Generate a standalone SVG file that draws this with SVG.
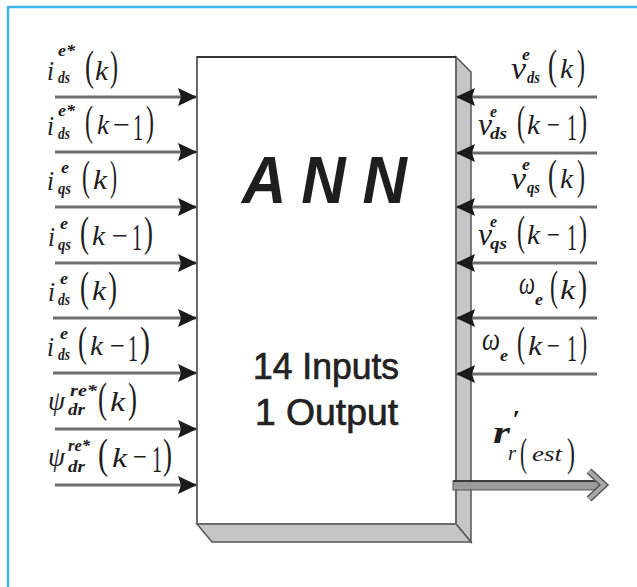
<svg xmlns="http://www.w3.org/2000/svg" width="637" height="587" viewBox="0 0 637 587">
<style>
.frame{stroke:#3cb9e8;stroke-width:2.5;fill:none}
.conn{stroke:#6e6e6e;stroke-width:3;fill:none}
.m{font-family:"Liberation Serif",serif;font-style:italic;fill:#1e1e1e}
.p{font-family:"Liberation Serif",serif;fill:#1e1e1e}
.s{font-family:"Liberation Serif",serif;font-style:italic;font-weight:bold;fill:#1e1e1e;font-size:16px}
.big{font-size:28px}
.vv{font-size:32px}
.par{font-size:42px}
.one{font-size:38px}
.title{font-family:"Liberation Sans",Arial,sans-serif;font-weight:bold;font-style:italic;font-size:66px;fill:#1e1e1e}
.sub2{font-family:"Liberation Sans",Arial,sans-serif;font-size:37px;fill:#222;stroke:#222;stroke-width:0.7}
.shadow{fill:#c6c6c6;stroke:#555;stroke-width:1.5}
</style>
<defs>
<marker id="ah" markerWidth="20" markerHeight="18" refX="19" refY="9" orient="auto" markerUnits="userSpaceOnUse">
<path d="M0,0 L19,9 L0,18 L3,9 z" fill="#1a1a1a"/>
</marker>
</defs>
<line class="frame" x1="8" y1="7" x2="637" y2="7"/>
<line class="frame" x1="8" y1="6" x2="8" y2="587"/>

<g id="ann">
<polygon class="shadow" points="456,57 471,72 471,542 456,524"/>
<polygon class="shadow" points="197,524 456,524 471,542 212,542"/>
<rect x="197" y="57" width="259" height="467" fill="#fff" stroke="#6a6a6a" stroke-width="2"/>
<line x1="197" y1="57" x2="456" y2="57" stroke="#333" stroke-width="2"/>
<text class="title" x="242" y="203" textLength="165" lengthAdjust="spacingAndGlyphs">A N N</text>
<text class="sub2" x="253" y="379" textLength="146" lengthAdjust="spacingAndGlyphs">14 Inputs</text>
<text class="sub2" x="255" y="425" textLength="143" lengthAdjust="spacingAndGlyphs">1 Output</text>
</g>

<g id="connectors">
<line class="conn" x1="55" y1="97" x2="197" y2="97" marker-end="url(#ah)"/>
<line class="conn" x1="55" y1="152" x2="197" y2="152" marker-end="url(#ah)"/>
<line class="conn" x1="55" y1="207" x2="197" y2="207" marker-end="url(#ah)"/>
<line class="conn" x1="55" y1="263" x2="197" y2="263" marker-end="url(#ah)"/>
<line class="conn" x1="53" y1="318" x2="197" y2="318" marker-end="url(#ah)"/>
<line class="conn" x1="53" y1="373" x2="197" y2="373" marker-end="url(#ah)"/>
<line class="conn" x1="55" y1="429" x2="197" y2="429" marker-end="url(#ah)"/>
<line class="conn" x1="55" y1="485" x2="197" y2="485" marker-end="url(#ah)"/>
<line class="conn" x1="597" y1="97" x2="456" y2="97" marker-end="url(#ah)"/>
<line class="conn" x1="597" y1="153" x2="456" y2="153" marker-end="url(#ah)"/>
<line class="conn" x1="597" y1="207" x2="456" y2="207" marker-end="url(#ah)"/>
<line class="conn" x1="597" y1="263" x2="456" y2="263" marker-end="url(#ah)"/>
<line class="conn" x1="597" y1="318" x2="456" y2="318" marker-end="url(#ah)"/>
<line class="conn" x1="597" y1="374" x2="456" y2="374" marker-end="url(#ah)"/>
<g id="output-arrow">
<rect x="453" y="481" width="146" height="9" fill="#9c9c9c" stroke="#555" stroke-width="1"/>
<line x1="453" y1="481" x2="599" y2="481" stroke="#222" stroke-width="1.5"/>
<polyline points="589,471 604,485 589,499" fill="none" stroke="#555" stroke-width="7" stroke-linejoin="miter"/>
<polyline points="589,471 604,485 589,499" fill="none" stroke="#a8a8a8" stroke-width="4" stroke-linejoin="miter"/>
</g>
</g>

<g id="in1">
<text class="m big" x="47" y="80" textLength="7" lengthAdjust="spacingAndGlyphs">i</text>
<text class="s" x="58" y="56" textLength="17" lengthAdjust="spacingAndGlyphs">e*</text>
<text class="s" x="58" y="83" textLength="12" lengthAdjust="spacingAndGlyphs">ds</text>
<text class="p par" x="85" y="80" textLength="9" lengthAdjust="spacingAndGlyphs">(</text>
<text class="m big" x="95" y="80" textLength="13" lengthAdjust="spacingAndGlyphs">k</text>
<text class="p par" x="110" y="80" textLength="8" lengthAdjust="spacingAndGlyphs">)</text>
</g>
<g id="in2">
<text class="m big" x="47" y="135" textLength="7" lengthAdjust="spacingAndGlyphs">i</text>
<text class="s" x="58" y="116" textLength="17" lengthAdjust="spacingAndGlyphs">e*</text>
<text class="s" x="58" y="139" textLength="12" lengthAdjust="spacingAndGlyphs">ds</text>
<text class="p par" x="85" y="135" textLength="8" lengthAdjust="spacingAndGlyphs">(</text>
<text class="m big" x="97" y="134" textLength="12" lengthAdjust="spacingAndGlyphs">k</text>
<text class="p big" x="113" y="134" textLength="17" lengthAdjust="spacingAndGlyphs">−</text>
<text class="p one" x="133" y="140" textLength="10" lengthAdjust="spacingAndGlyphs">1</text>
<text class="p par" x="146" y="135" textLength="8" lengthAdjust="spacingAndGlyphs">)</text>
</g>
<g id="in3">
<text class="m big" x="47" y="190" textLength="7" lengthAdjust="spacingAndGlyphs">i</text>
<text class="s" x="61" y="173" textLength="8" lengthAdjust="spacingAndGlyphs">e</text>
<text class="s" x="58" y="194" textLength="13" lengthAdjust="spacingAndGlyphs">qs</text>
<text class="p par" x="82" y="190" textLength="8" lengthAdjust="spacingAndGlyphs">(</text>
<text class="m big" x="93" y="189" textLength="14" lengthAdjust="spacingAndGlyphs">k</text>
<text class="p par" x="110" y="190" textLength="7" lengthAdjust="spacingAndGlyphs">)</text>
</g>
<g id="in4">
<text class="m big" x="48" y="246" textLength="7" lengthAdjust="spacingAndGlyphs">i</text>
<text class="s" x="60" y="229" textLength="8" lengthAdjust="spacingAndGlyphs">e</text>
<text class="s" x="58" y="250" textLength="13" lengthAdjust="spacingAndGlyphs">qs</text>
<text class="p par" x="80" y="246" textLength="9" lengthAdjust="spacingAndGlyphs">(</text>
<text class="m big" x="92" y="245" textLength="13" lengthAdjust="spacingAndGlyphs">k</text>
<text class="p big" x="112" y="245" textLength="16" lengthAdjust="spacingAndGlyphs">−</text>
<text class="p one" x="132" y="250" textLength="10" lengthAdjust="spacingAndGlyphs">1</text>
<text class="p par" x="144" y="246" textLength="9" lengthAdjust="spacingAndGlyphs">)</text>
</g>
<g id="in5">
<text class="m big" x="48" y="301" textLength="7" lengthAdjust="spacingAndGlyphs">i</text>
<text class="s" x="60" y="284" textLength="8" lengthAdjust="spacingAndGlyphs">e</text>
<text class="s" x="58" y="305" textLength="12" lengthAdjust="spacingAndGlyphs">ds</text>
<text class="p par" x="80" y="301" textLength="9" lengthAdjust="spacingAndGlyphs">(</text>
<text class="m big" x="92" y="300" textLength="14" lengthAdjust="spacingAndGlyphs">k</text>
<text class="p par" x="108" y="301" textLength="9" lengthAdjust="spacingAndGlyphs">)</text>
</g>
<g id="in6">
<text class="m big" x="47" y="356" textLength="7" lengthAdjust="spacingAndGlyphs">i</text>
<text class="s" x="60" y="339" textLength="8" lengthAdjust="spacingAndGlyphs">e</text>
<text class="s" x="58" y="360" textLength="12" lengthAdjust="spacingAndGlyphs">ds</text>
<text class="p par" x="78" y="356" textLength="9" lengthAdjust="spacingAndGlyphs">(</text>
<text class="m big" x="90" y="355" textLength="13" lengthAdjust="spacingAndGlyphs">k</text>
<text class="p big" x="110" y="355" textLength="15" lengthAdjust="spacingAndGlyphs">−</text>
<text class="p one" x="128" y="361" textLength="10" lengthAdjust="spacingAndGlyphs">1</text>
<text class="p par" x="140" y="356" textLength="10" lengthAdjust="spacingAndGlyphs">)</text>
</g>
<g id="in7">
<text class="m big" x="48" y="410" textLength="17" lengthAdjust="spacingAndGlyphs">ψ</text>
<text class="s" x="70" y="396" textLength="27" lengthAdjust="spacingAndGlyphs">re*</text>
<text class="s" x="68" y="415" textLength="17" lengthAdjust="spacingAndGlyphs">dr</text>
<text class="p par" x="98" y="412" textLength="9" lengthAdjust="spacingAndGlyphs">(</text>
<text class="m big" x="110" y="411" textLength="15" lengthAdjust="spacingAndGlyphs">k</text>
<text class="p par" x="128" y="412" textLength="9" lengthAdjust="spacingAndGlyphs">)</text>
</g>
<g id="in8">
<text class="m big" x="48" y="466" textLength="17" lengthAdjust="spacingAndGlyphs">ψ</text>
<text class="s" x="68" y="451" textLength="22" lengthAdjust="spacingAndGlyphs">re*</text>
<text class="s" x="68" y="472" textLength="17" lengthAdjust="spacingAndGlyphs">dr</text>
<text class="p par" x="98" y="468" textLength="10" lengthAdjust="spacingAndGlyphs">(</text>
<text class="m big" x="112" y="467" textLength="15" lengthAdjust="spacingAndGlyphs">k</text>
<text class="p big" x="133" y="466" textLength="14" lengthAdjust="spacingAndGlyphs">−</text>
<text class="p one" x="152" y="472" textLength="10" lengthAdjust="spacingAndGlyphs">1</text>
<text class="p par" x="163" y="468" textLength="9" lengthAdjust="spacingAndGlyphs">)</text>
</g>

<g id="in9">
<text class="m vv" x="511" y="79" textLength="15" lengthAdjust="spacingAndGlyphs">v</text>
<text class="s" x="522" y="60" textLength="8" lengthAdjust="spacingAndGlyphs">e</text>
<text class="s" x="527" y="83" textLength="13" lengthAdjust="spacingAndGlyphs">ds</text>
<text class="p par" x="548" y="79" textLength="9" lengthAdjust="spacingAndGlyphs">(</text>
<text class="m big" x="560" y="78" textLength="13" lengthAdjust="spacingAndGlyphs">k</text>
<text class="p par" x="577" y="79" textLength="8" lengthAdjust="spacingAndGlyphs">)</text>
</g>
<g id="in10">
<text class="m vv" x="478" y="135" textLength="14" lengthAdjust="spacingAndGlyphs">v</text>
<text class="s" x="490" y="117" textLength="7" lengthAdjust="spacingAndGlyphs">e</text>
<text class="s" x="490" y="139" textLength="17" lengthAdjust="spacingAndGlyphs">ds</text>
<text class="p par" x="517" y="135" textLength="8" lengthAdjust="spacingAndGlyphs">(</text>
<text class="m big" x="527" y="134" textLength="13" lengthAdjust="spacingAndGlyphs">k</text>
<text class="p big" x="547" y="134" textLength="13" lengthAdjust="spacingAndGlyphs">−</text>
<text class="p one" x="567" y="140" textLength="10" lengthAdjust="spacingAndGlyphs">1</text>
<text class="p par" x="579" y="135" textLength="8" lengthAdjust="spacingAndGlyphs">)</text>
</g>
<g id="in11">
<text class="m vv" x="511" y="189" textLength="15" lengthAdjust="spacingAndGlyphs">v</text>
<text class="s" x="522" y="170" textLength="8" lengthAdjust="spacingAndGlyphs">e</text>
<text class="s" x="527" y="193" textLength="13" lengthAdjust="spacingAndGlyphs">qs</text>
<text class="p par" x="548" y="189" textLength="9" lengthAdjust="spacingAndGlyphs">(</text>
<text class="m big" x="560" y="188" textLength="13" lengthAdjust="spacingAndGlyphs">k</text>
<text class="p par" x="577" y="189" textLength="8" lengthAdjust="spacingAndGlyphs">)</text>
</g>
<g id="in12">
<text class="m vv" x="478" y="245" textLength="14" lengthAdjust="spacingAndGlyphs">v</text>
<text class="s" x="490" y="227" textLength="7" lengthAdjust="spacingAndGlyphs">e</text>
<text class="s" x="490" y="249" textLength="17" lengthAdjust="spacingAndGlyphs">qs</text>
<text class="p par" x="517" y="245" textLength="8" lengthAdjust="spacingAndGlyphs">(</text>
<text class="m big" x="527" y="244" textLength="13" lengthAdjust="spacingAndGlyphs">k</text>
<text class="p big" x="547" y="244" textLength="13" lengthAdjust="spacingAndGlyphs">−</text>
<text class="p one" x="567" y="250" textLength="10" lengthAdjust="spacingAndGlyphs">1</text>
<text class="p par" x="579" y="245" textLength="8" lengthAdjust="spacingAndGlyphs">)</text>
</g>
<g id="in13">
<text class="m vv" x="519" y="294" textLength="16" lengthAdjust="spacingAndGlyphs">ω</text>
<text class="s" x="535" y="305" textLength="8" lengthAdjust="spacingAndGlyphs">e</text>
<text class="p par" x="550" y="300" textLength="8" lengthAdjust="spacingAndGlyphs">(</text>
<text class="m big" x="560" y="299" textLength="15" lengthAdjust="spacingAndGlyphs">k</text>
<text class="p par" x="578" y="300" textLength="9" lengthAdjust="spacingAndGlyphs">)</text>
</g>
<g id="in14">
<text class="m vv" x="482" y="350" textLength="18" lengthAdjust="spacingAndGlyphs">ω</text>
<text class="s" x="500" y="361" textLength="8" lengthAdjust="spacingAndGlyphs">e</text>
<text class="p par" x="517" y="356" textLength="8" lengthAdjust="spacingAndGlyphs">(</text>
<text class="m big" x="528" y="355" textLength="14" lengthAdjust="spacingAndGlyphs">k</text>
<text class="p big" x="547" y="355" textLength="13" lengthAdjust="spacingAndGlyphs">−</text>
<text class="p one" x="567" y="361" textLength="10" lengthAdjust="spacingAndGlyphs">1</text>
<text class="p par" x="580" y="356" textLength="7" lengthAdjust="spacingAndGlyphs">)</text>
</g>

<g id="out">
<text class="m" x="493" y="443" font-size="32" font-weight="bold" textLength="17" lengthAdjust="spacingAndGlyphs">r</text>
<text class="m" x="512" y="428" font-size="26" font-weight="bold" textLength="8" lengthAdjust="spacingAndGlyphs">′</text>
<text class="m" x="508" y="460" font-size="20" textLength="8" lengthAdjust="spacingAndGlyphs">r</text>
<text class="p" x="520" y="466" font-size="40" textLength="7" lengthAdjust="spacingAndGlyphs">(</text>
<text class="m" x="532" y="461" font-size="22" textLength="30" lengthAdjust="spacingAndGlyphs">est</text>
<text class="p" x="567" y="466" font-size="40" textLength="8" lengthAdjust="spacingAndGlyphs">)</text>
</g>
</svg>
